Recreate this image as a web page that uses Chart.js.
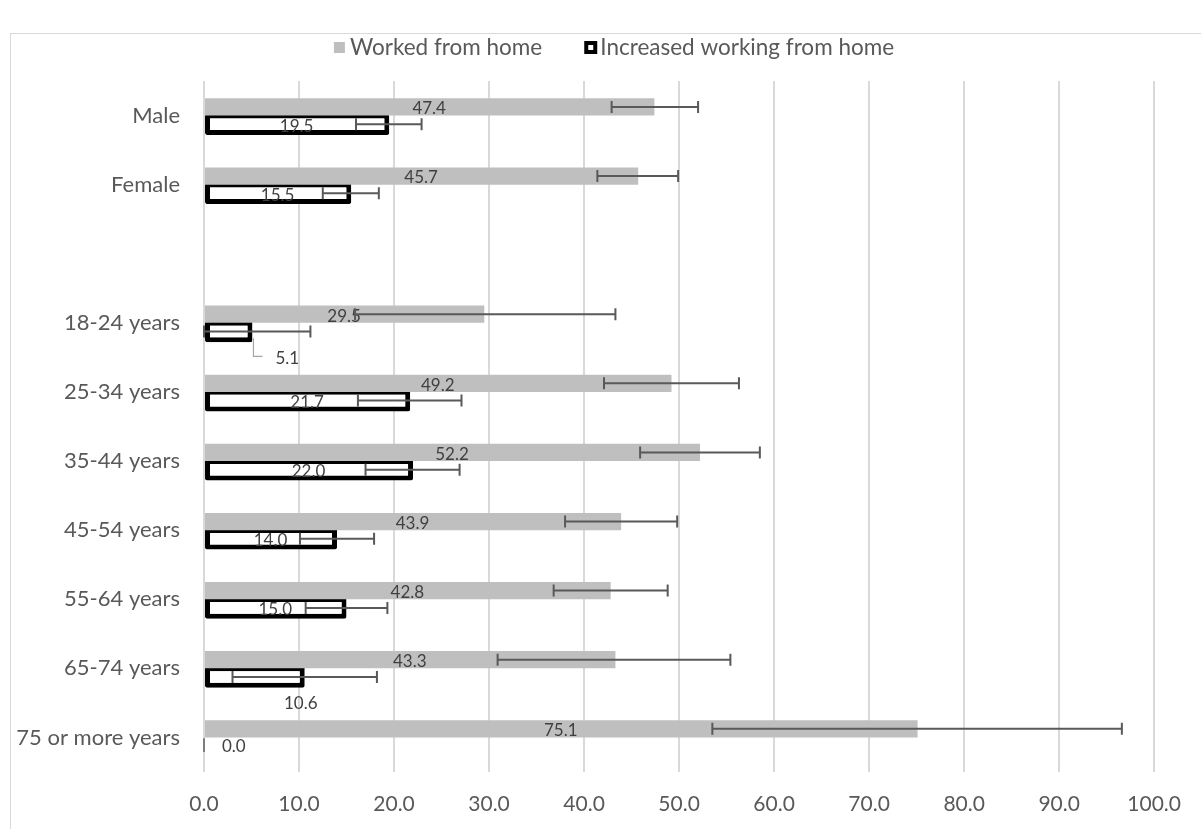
<!DOCTYPE html>
<html>
<head>
<meta charset="utf-8">
<script src="https://cdn.jsdelivr.net/npm/chart.js@4"></script>
<style>
  body { margin: 0; background: #fff; overflow: hidden; }
  #frame { position: absolute; left: 10px; top: 33px; width: 1200px; height: 800px; border: 1px solid #d9d9d9; }
</style>
</head>
<body>
<div id="frame"><canvas id="wfhChart" width="1190" height="795"></canvas></div>
<script>
const categories = ["Male", "Female", "", "18-24 years", "25-34 years", "35-44 years", "45-54 years", "55-64 years", "65-74 years", "75 or more years"];
const workedFromHome = [47.4, 45.7, null, 29.5, 49.2, 52.2, 43.9, 42.8, 43.3, 75.1];
const workedLow = [42.9, 41.4, null, 15.9, 42.1, 45.9, 38.0, 36.8, 30.9, 53.5];
const workedHigh = [52.0, 49.9, null, 43.3, 56.3, 58.5, 49.8, 48.8, 55.4, 96.6];
const increasedWFH = [19.5, 15.5, null, 5.1, 21.7, 22.0, 14.0, 15.0, 10.6, 0.0];
const increasedLow = [16.0, 12.5, null, 0, 16.2, 17.0, 10.1, 10.7, 3.0, null];
const increasedHigh = [22.9, 18.4, null, 11.2, 27.1, 26.9, 17.9, 19.3, 18.2, null];
const xTicks = [0, 10, 20, 30, 40, 50, 60, 70, 80, 90, 100];

// where each data label sits (Excel moved a few of them)
const workedLabelPos = ["center", "center", null, "center", "center", "center", "center", "center", "center", "center"];
const increasedLabelPos = ["center", "center", null, "callout", "center", "center", "center", "center", "below", "right"];

const FONT = "Lato, 'Open Sans', sans-serif";
const GREY = "#bfbfbf";

const overlay = {
  id: "overlay",
  afterDatasetsDraw(chart) {
    const ctx = chart.ctx;
    const xs = chart.scales.x;
    chart.data.datasets.forEach((ds, di) => {
      const meta = chart.getDatasetMeta(di);
      meta.data.forEach((bar, i) => {
        const v = ds.data[i];
        if (v == null) return;
        const top = bar.y - bar.height / 2;
        const bot = bar.y + bar.height / 2;
        const x0 = xs.getPixelForValue(0);
        const x1 = xs.getPixelForValue(v);
        ctx.save();
        ctx.font = "17px " + FONT;
        ctx.fillStyle = "#404040";
        ctx.textBaseline = "middle";
        const pos = ds.labelPos[i];
        const txt = v.toFixed(1);
        if (pos === "center") {
          ctx.textAlign = "center";
          ctx.fillText(txt, (x0 + x1) / 2, bar.y + 2);
        } else if (pos === "callout") {
          ctx.strokeStyle = "#a6a6a6";
          ctx.lineWidth = 1.2;
          ctx.beginPath();
          ctx.moveTo(x1 + 1, bot - 4);
          ctx.lineTo(x1 + 1, bot + 14);
          ctx.lineTo(x1 + 10, bot + 14);
          ctx.stroke();
          ctx.textAlign = "left";
          ctx.fillText(txt, x1 + 23, bot + 16);
        } else if (pos === "below") {
          ctx.textAlign = "center";
          ctx.fillText(txt, x1 - 4, bot + 16);
        } else if (pos === "right") {
          ctx.strokeStyle = "#404040";
          ctx.lineWidth = 1.2;
          ctx.beginPath();
          ctx.moveTo(x0, top + 3);
          ctx.lineTo(x0, bot - 5);
          ctx.stroke();
          ctx.textAlign = "left";
          ctx.fillText(txt, x1 + 18, bar.y);
        }
        // error bars
        const lo = ds.errLow[i], hi = ds.errHigh[i];
        if (lo != null && hi != null) {
          const a = xs.getPixelForValue(lo), b = xs.getPixelForValue(hi);
          ctx.strokeStyle = "#595959";
          ctx.lineWidth = 2;
          ctx.beginPath();
          ctx.moveTo(a, bar.y); ctx.lineTo(b, bar.y);
          ctx.moveTo(a, bar.y - 6); ctx.lineTo(a, bar.y + 6);
          ctx.moveTo(b, bar.y - 6); ctx.lineTo(b, bar.y + 6);
          ctx.stroke();
        }
        ctx.restore();
      });
    });

    // legend, drawn by hand so the box/text spacing matches Excel
    const gap = 4, box = 12, itemGap = 42;
    ctx.save();
    ctx.font = "22.5px " + FONT;
    ctx.textBaseline = "middle";
    ctx.textAlign = "left";
    const widths = chart.data.datasets.map((ds) => box + gap + ctx.measureText(ds.label).width);
    const total = widths.reduce((s, w) => s + w, 0) + itemGap * (widths.length - 1);
    let lx = 603 - total / 2;
    const ly = 14;
    chart.data.datasets.forEach((ds, i) => {
      if (i === 0) {
        ctx.fillStyle = GREY;
        ctx.fillRect(lx, ly - 6, 11, 11);
      } else {
        ctx.fillStyle = "#000";
        ctx.fillRect(lx, ly - 7, 13, 13);
        ctx.fillStyle = "#fff";
        ctx.fillRect(lx + 4, ly - 3, 5, 5);
      }
      ctx.fillStyle = "#595959";
      ctx.fillText(ds.label, lx + box + gap, ly);
      lx += widths[i] + itemGap;
    });
    ctx.restore();
  },
};

new Chart(document.getElementById("wfhChart").getContext("2d"), {
  type: "bar",
  data: {
    labels: categories,
    datasets: [
      {
        label: "Worked from home",
        data: workedFromHome,
        errLow: workedLow,
        errHigh: workedHigh,
        labelPos: workedLabelPos,
        backgroundColor: GREY,
        borderWidth: 0,
        barPercentage: 1,
        categoryPercentage: 0.5,
      },
      {
        label: "Increased working from home",
        data: increasedWFH,
        errLow: increasedLow,
        errHigh: increasedHigh,
        labelPos: increasedLabelPos,
        backgroundColor: "#ffffff",
        borderColor: "#000000",
        borderWidth: 5,
        borderSkipped: false,
        borderRadius: 2,
        barPercentage: 1.25,
        categoryPercentage: 0.5,
      },
    ],
  },
  options: {
    indexAxis: "y",
    responsive: false,
    animation: false,
    layout: { padding: { top: 47, right: 32, left: 0, bottom: 0 } },
    plugins: {
      tooltip: { enabled: false },
      legend: { display: false },
    },
    scales: {
      x: {
        min: 0,
        max: 100,
        afterBuildTicks(scale) { scale.ticks = xTicks.map((v) => ({ value: v })); },
        afterFit(scale) { scale.height = 57; },
        grid: { color: "#d9d9d9", lineWidth: 2, drawTicks: false },
        border: { display: false },
        ticks: {
          padding: 20,
          color: "#595959",
          font: { family: FONT, size: 21 },
          callback: (v) => Number(v).toFixed(1),
        },
      },
      y: {
        afterFit(scale) { scale.width = 193; },
        grid: { display: false, drawTicks: false },
        border: { display: false },
        ticks: {
          padding: 24,
          color: "#595959",
          font: { family: FONT, size: 22 },
        },
      },
    },
  },
  plugins: [overlay],
});
</script>
</body>
</html>
